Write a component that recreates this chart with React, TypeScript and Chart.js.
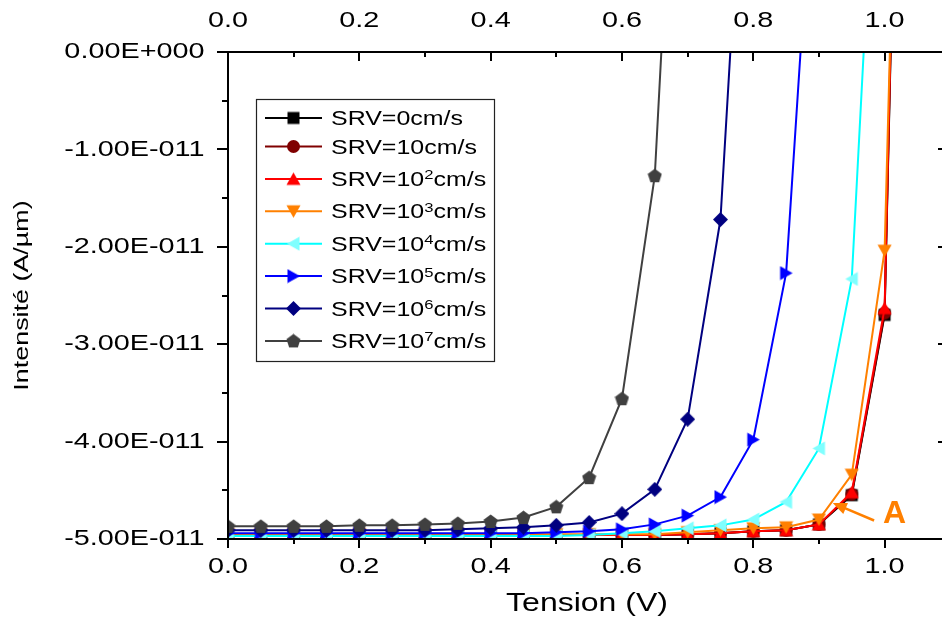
import React, { useEffect, useRef } from "react";
import { Chart, registerables } from "chart.js";

Chart.register(...registerables);

// ---------- data ----------
const UNIT = 1e-11; // series values below are in units of 1e-11 A/µm

const VOLTAGE = [0.0, 0.05, 0.1, 0.15, 0.2, 0.25, 0.3, 0.35, 0.4, 0.45, 0.5, 0.55, 0.6, 0.65, 0.7, 0.75, 0.8, 0.85, 0.9, 0.95, 1.0, 1.05];

const SRV_0 = [-4.96, -4.96, -4.96, -4.96, -4.96, -4.96, -4.96, -4.96, -4.96, -4.96, -4.96, -4.96, -4.96, -4.96, -4.95, -4.94, -4.92, -4.91, -4.85, -4.55, -2.7, 12.0];
const SRV_10 = [-4.96, -4.96, -4.96, -4.96, -4.96, -4.96, -4.96, -4.96, -4.96, -4.96, -4.96, -4.96, -4.96, -4.96, -4.95, -4.94, -4.92, -4.91, -4.85, -4.54, -2.68, 12.2];
const SRV_1E2 = [-4.96, -4.96, -4.96, -4.96, -4.96, -4.96, -4.96, -4.96, -4.96, -4.96, -4.96, -4.96, -4.96, -4.96, -4.95, -4.94, -4.92, -4.91, -4.85, -4.52, -2.63, 12.5];
const SRV_1E3 = [-4.95, -4.95, -4.95, -4.95, -4.95, -4.95, -4.95, -4.95, -4.95, -4.95, -4.95, -4.95, -4.95, -4.95, -4.93, -4.91, -4.89, -4.88, -4.8, -4.34, -2.04, 10.7];
const SRV_1E4 = [-4.97, -4.97, -4.97, -4.97, -4.97, -4.97, -4.97, -4.97, -4.97, -4.97, -4.97, -4.96, -4.94, -4.92, -4.89, -4.86, -4.8, -4.62, -4.07, -2.33, 4.1, null];
const SRV_1E5 = [-4.94, -4.94, -4.94, -4.94, -4.94, -4.94, -4.94, -4.94, -4.94, -4.94, -4.93, -4.92, -4.9, -4.85, -4.76, -4.57, -3.98, -2.27, 2.9, null, null, null];
const SRV_1E6 = [-4.91, -4.91, -4.91, -4.91, -4.91, -4.91, -4.91, -4.9, -4.89, -4.88, -4.86, -4.83, -4.74, -4.49, -3.77, -1.72, 4.0, null, null, null, null, null];
const SRV_1E7 = [-4.87, -4.87, -4.87, -4.87, -4.86, -4.86, -4.85, -4.84, -4.82, -4.78, -4.67, -4.37, -3.56, -1.27, 5.1, null, null, null, null, null, null, null];

const SERIES = [SRV_0, SRV_10, SRV_1E2, SRV_1E3, SRV_1E4, SRV_1E5, SRV_1E6, SRV_1E7];
const SERIES_LABELS = ["SRV=0cm/s", "SRV=10cm/s", "SRV=10²cm/s", "SRV=10³cm/s", "SRV=10⁴cm/s", "SRV=10⁵cm/s", "SRV=10⁶cm/s", "SRV=10⁷cm/s"];
const LINE_COLORS = ["#000000", "#800000", "#FF0000", "#FF8000", "#00FFFF", "#0000FF", "#000080", "#404040"];
const MARKER_COLORS = ["#000000", "#800000", "#FF0000", "#FF8000", "#80FFFF", "#0000FF", "#000080", "#404040"];
const MARKER_SHAPES = ["square", "circle", "up", "down", "left", "right", "diamond", "pentagon"];

const X_TICKS = [0.0, 0.2, 0.4, 0.6, 0.8, 1.0];
const X_MINOR = [0.1, 0.3, 0.5, 0.7, 0.9];
const Y_TICKS = [0, -1, -2, -3, -4, -5];
const Y_MINOR = [-0.5, -1.5, -2.5, -3.5, -4.5];
const X_MIN = 0;
const X_MAX = 1.0935;
const Y_MIN = -5;
const Y_MAX = 0;

const X_TITLE = "Tension (V)";
const Y_TITLE = "Intensité (A/µm)";
const ANNOT_TEXT = "A";
const ANNOT_TEXT_POS = { x: 1.015, y: -4.74 };
const ANNOT_ARROW_TAIL = { x: 0.984, y: -4.81 };
const ANNOT_ARROW_TIP = { x: 0.921, y: -4.63 };

// ---------- helpers ----------
const FONT = "'Liberation Sans', Arial, sans-serif";
const SX = 1.28; // horizontal text stretch

function sci(v: number): string {
  if (Math.abs(v) < 1e-30) return "0.00E+000";
  const s = v.toExponential(2);
  const [m, e] = s.split("e");
  const n = parseInt(e, 10);
  const sign = n < 0 ? "-" : "+";
  return m + "E" + sign + String(Math.abs(n)).padStart(3, "0");
}

function makeMarker(shape: string, color: string): HTMLCanvasElement {
  const size = 15;
  const c = document.createElement("canvas");
  c.width = size;
  c.height = size;
  const g = c.getContext("2d")!;
  g.fillStyle = color;
  const r = size / 2;
  g.beginPath();
  switch (shape) {
    case "square":
      g.rect(1.5, 1.5, 12, 12);
      break;
    case "circle":
      g.arc(r, r, 6.5, 0, Math.PI * 2);
      break;
    case "up":
      g.moveTo(r, 1);
      g.lineTo(14.5, 13.5);
      g.lineTo(0.5, 13.5);
      break;
    case "down":
      g.moveTo(r, 14);
      g.lineTo(14.5, 1.5);
      g.lineTo(0.5, 1.5);
      break;
    case "left":
      g.moveTo(1, r);
      g.lineTo(13.5, 0.5);
      g.lineTo(13.5, 14.5);
      break;
    case "right":
      g.moveTo(14, r);
      g.lineTo(1.5, 0.5);
      g.lineTo(1.5, 14.5);
      break;
    case "diamond":
      g.moveTo(r, 0);
      g.lineTo(15, r);
      g.lineTo(r, 15);
      g.lineTo(0, r);
      break;
    case "pentagon": {
      const cy = 8;
      for (let k = 0; k < 5; k++) {
        const a = -Math.PI / 2 + (k * 2 * Math.PI) / 5;
        const px = r + 7.4 * Math.cos(a);
        const py = cy + 7.4 * Math.sin(a);
        if (k === 0) g.moveTo(px, py);
        else g.lineTo(px, py);
      }
      break;
    }
  }
  g.closePath();
  g.fill();
  return c;
}

export default function App() {
  const canvasRef = useRef<HTMLCanvasElement | null>(null);

  useEffect(() => {
    document.body.style.margin = "0";
    const canvas = canvasRef.current!;
    const ctx = canvas.getContext("2d")!;
    const origFillText = ctx.fillText;
    // stretch all text horizontally in its own frame
    (ctx as any).fillText = function (text: string, x: number, y: number) {
      this.save();
      this.translate(x, y);
      this.scale(SX, 1);
      origFillText.call(this, text, 0, 0);
      this.restore();
    };

    const markers = MARKER_SHAPES.map((s, i) => makeMarker(s, MARKER_COLORS[i]));

    const datasets = SERIES.map((vals, i) => ({
      label: SERIES_LABELS[i],
      data: vals
        .map((v, k) => (v === null ? null : { x: VOLTAGE[k], y: (v as number) * UNIT }))
        .filter((p) => p !== null),
      borderColor: LINE_COLORS[i],
      backgroundColor: MARKER_COLORS[i],
      borderWidth: 2,
      pointStyle: markers[i],
      pointRadius: 7,
      pointHoverRadius: 7,
      tension: 0,
      order: 7 - i,
    }));

    const frame = {
      id: "frame",
      afterDatasetsDraw(chart: any) {
        const { ctx: c, chartArea } = chart;
        const { left, right, top, bottom } = chartArea;
        const xs = chart.scales.x;
        const ys = chart.scales.y;
        c.save();
        c.strokeStyle = "#000";
        c.lineWidth = 2;
        c.strokeRect(left, top, right - left, bottom - top);
        c.beginPath();
        X_TICKS.forEach((v) => {
          const p = Math.round(xs.getPixelForValue(v));
          c.moveTo(p, bottom);
          c.lineTo(p, bottom + 9);
          c.moveTo(p, top);
          c.lineTo(p, top + 9);
        });
        X_MINOR.forEach((v) => {
          const p = Math.round(xs.getPixelForValue(v));
          c.moveTo(p, bottom);
          c.lineTo(p, bottom + 5);
          c.moveTo(p, top);
          c.lineTo(p, top + 5);
        });
        Y_TICKS.forEach((v) => {
          const p = Math.round(ys.getPixelForValue(v * UNIT));
          c.moveTo(left - 11, p);
          c.lineTo(left, p);
          c.moveTo(right - 8, p);
          c.lineTo(right, p);
        });
        Y_MINOR.forEach((v) => {
          const p = Math.round(ys.getPixelForValue(v * UNIT));
          c.moveTo(left - 6, p);
          c.lineTo(left, p);
          c.moveTo(right - 4, p);
          c.lineTo(right, p);
        });
        c.stroke();
        c.restore();
      },
    };

    const overlay = {
      id: "overlay",
      afterDraw(chart: any) {
        const c = chart.ctx;
        const xs = chart.scales.x;
        const ys = chart.scales.y;
        // ----- legend -----
        const bx = 256, by = 99, bw = 238, bh = 262;
        c.save();
        c.fillStyle = "#fff";
        c.fillRect(bx, by, bw, bh);
        c.strokeStyle = "#222";
        c.lineWidth = 1.2;
        c.strokeRect(bx + 0.5, by + 0.5, bw, bh);
        SERIES_LABELS.forEach((label, i) => {
          const ry = by + 19 + (i === 0 ? 0 : 28.5 + (i - 1) * 32.4);
          c.strokeStyle = LINE_COLORS[i];
          c.lineWidth = 2;
          c.beginPath();
          c.moveTo(265, ry);
          c.lineTo(322, ry);
          c.stroke();
          c.drawImage(markers[i], 293.5 - 7.5, ry - 7.5);
          c.fillStyle = "#000";
          c.textAlign = "left";
          c.textBaseline = "alphabetic";
          let x = 331;
          const parts = label.match(/[⁰¹²³⁴⁵⁶⁷⁸⁹]+|[^⁰¹²³⁴⁵⁶⁷⁸⁹]+/g) || [label];
          parts.forEach((part) => {
            const isSup = /[⁰¹²³⁴⁵⁶⁷⁸⁹]/.test(part);
            if (isSup) {
              const digits = part.replace(/[⁰¹²³⁴⁵⁶⁷⁸⁹]/g, (ch) => String("⁰¹²³⁴⁵⁶⁷⁸⁹".indexOf(ch)));
              c.font = "13px " + FONT;
              c.fillText(digits, x, ry + 0.5);
              x += c.measureText(digits).width * SX;
            } else {
              c.font = "19.5px " + FONT;
              c.fillText(part, x, ry + 7);
              x += c.measureText(part).width * SX;
            }
          });
        });
        // ----- annotation -----
        const tx = xs.getPixelForValue(ANNOT_ARROW_TIP.x);
        const ty = ys.getPixelForValue(ANNOT_ARROW_TIP.y * UNIT);
        const sx = xs.getPixelForValue(ANNOT_ARROW_TAIL.x);
        const sy = ys.getPixelForValue(ANNOT_ARROW_TAIL.y * UNIT);
        const dx = tx - sx, dy = ty - sy;
        const len = Math.hypot(dx, dy);
        const ux = dx / len, uy = dy / len;
        const hl = 14, hw = 6;
        c.strokeStyle = "#FF8000";
        c.fillStyle = "#FF8000";
        c.lineWidth = 2.5;
        c.beginPath();
        c.moveTo(sx, sy);
        c.lineTo(tx - ux * hl * 0.8, ty - uy * hl * 0.8);
        c.stroke();
        c.beginPath();
        c.moveTo(tx, ty);
        c.lineTo(tx - ux * hl - uy * hw, ty - uy * hl + ux * hw);
        c.lineTo(tx - ux * hl + uy * hw, ty - uy * hl - ux * hw);
        c.closePath();
        c.fill();
        c.font = "bold 32px " + FONT;
        c.textAlign = "center";
        c.textBaseline = "middle";
        origFillText.call(
          c,
          ANNOT_TEXT,
          xs.getPixelForValue(ANNOT_TEXT_POS.x),
          ys.getPixelForValue(ANNOT_TEXT_POS.y * UNIT)
        );
        c.restore();
      },
    };

    const tickFont = { family: FONT, size: 22.5 };
    const xTicks = (padding: number) => ({
      padding,
      color: "#000",
      font: tickFont,
      autoSkip: false,
      maxRotation: 0,
      minRotation: 0,
      callback: (v: any) => Number(v).toFixed(1),
    });

    const chart = new Chart(canvas, {
      type: "line",
      data: { datasets: datasets as any },
      options: {
        responsive: false,
        maintainAspectRatio: false,
        animation: false,
        devicePixelRatio: 1,
        layout: { autoPadding: false, padding: { left: 0, right: 4, top: 0, bottom: 0 } },
        plugins: { legend: { display: false }, tooltip: { enabled: false } },
        events: [],
        scales: {
          x: {
            type: "linear",
            position: "bottom",
            min: X_MIN,
            max: X_MAX,
            grid: { display: false, drawTicks: false },
            border: { display: false },
            ticks: xTicks(14.5) as any,
            afterBuildTicks: (s: any) => {
              s.ticks = X_TICKS.map((value) => ({ value }));
            },
            afterFit: (s: any) => {
              s.height = 80;
            },
            title: {
              display: true,
              text: X_TITLE,
              color: "#000",
              font: { family: FONT, size: 25 },
              padding: { top: 0, bottom: 0 },
            },
          },
          x2: {
            type: "linear",
            position: "top",
            min: X_MIN,
            max: X_MAX,
            grid: { display: false, drawTicks: false },
            border: { display: false },
            ticks: xTicks(18) as any,
            afterBuildTicks: (s: any) => {
              s.ticks = X_TICKS.map((value) => ({ value }));
            },
            afterFit: (s: any) => {
              s.height = 52;
            },
          },
          y: {
            type: "linear",
            position: "left",
            min: Y_MIN * UNIT,
            max: Y_MAX * UNIT,
            grid: { display: false, drawTicks: false },
            border: { display: false },
            ticks: {
              padding: 23.5,
              color: "#000",
              font: tickFont,
              autoSkip: false,
              callback: (v: any) => sci(Number(v)),
            },
            afterBuildTicks: (s: any) => {
              s.ticks = Y_TICKS.map((v) => ({ value: v * UNIT }));
            },
            afterFit: (s: any) => {
              s.width = 228;
            },
            title: {
              display: true,
              text: Y_TITLE,
              color: "#000",
              font: { family: FONT, size: 21 },
              padding: { top: 10, bottom: 0 },
            },
          },
        },
      },
      plugins: [frame, overlay],
    });

    return () => {
      chart.destroy();
      (ctx as any).fillText = origFillText;
    };
  }, []);

  return (
    <div style={{ width: 942, height: 619, overflow: "hidden", background: "#fff" }}>
      <canvas ref={canvasRef} width={950} height={619} style={{ display: "block" }} />
    </div>
  );
}
